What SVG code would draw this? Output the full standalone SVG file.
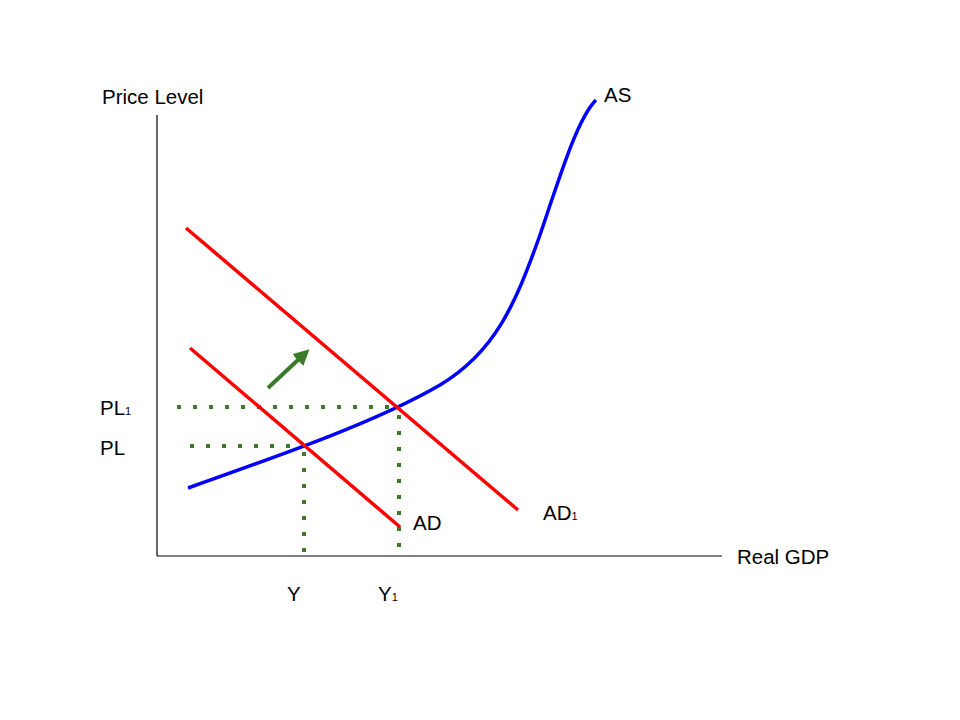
<svg xmlns="http://www.w3.org/2000/svg" width="960" height="720" viewBox="0 0 960 720">
<style>
text{font-family:"Liberation Sans",Arial,sans-serif;font-size:20.5px;fill:#000}
.sub{font-size:11px}
.ax{stroke:#000;stroke-width:1.2;fill:none}
.ad{stroke:#f00;stroke-width:3.5;fill:none}
.as{stroke:#00f;stroke-width:3.5;fill:none}
.dot{stroke:#3b7a2b;stroke-width:4;stroke-dasharray:4 12;fill:none}
</style>
<defs>
<marker id="ah" viewBox="0 0 10 10" refX="1" refY="5" markerWidth="4" markerHeight="4" orient="auto" markerUnits="strokeWidth">
<path d="M0,0 L10,5 L0,10 z" fill="#3b7a2b"/>
</marker>
</defs>
<rect width="960" height="720" fill="#fff"/>
<g id="axes">
<line class="ax" x1="157" y1="115" x2="157" y2="556"/>
<line class="ax" x1="157" y1="556" x2="722" y2="556"/>
</g>
<g id="connectors">
<path class="dot" d="M177,407 H400"/>
<path class="dot" d="M399,415 V556"/>
<path class="dot" d="M190,446 H304"/>
<path class="dot" d="M304,452 V556"/>
<line x1="268" y1="388" x2="299" y2="359" stroke="#3b7a2b" stroke-width="4" marker-end="url(#ah)"/>
</g>
<g id="AS"><path class="as" d="M188,488 C290,452 380,420 440,385 C495,352 515,305 540,235 C562,170 578,118 596,100"/></g>
<g id="AD1"><line class="ad" x1="186" y1="228" x2="518" y2="510"/></g>
<g id="AD"><line class="ad" x1="190" y1="348" x2="400" y2="527"/></g>
<g id="labels">
<text x="102" y="104">Price Level</text>
<text x="604" y="102">AS</text>
<text x="100" y="415">PL<tspan class="sub">1</tspan></text>
<text x="100" y="455">PL</text>
<text x="413" y="530">AD</text>
<text x="543" y="520">AD<tspan class="sub">1</tspan></text>
<text x="737" y="564">Real GDP</text>
<text x="287" y="601">Y</text>
<text x="378" y="601">Y<tspan class="sub">1</tspan></text>
</g>
</svg>
